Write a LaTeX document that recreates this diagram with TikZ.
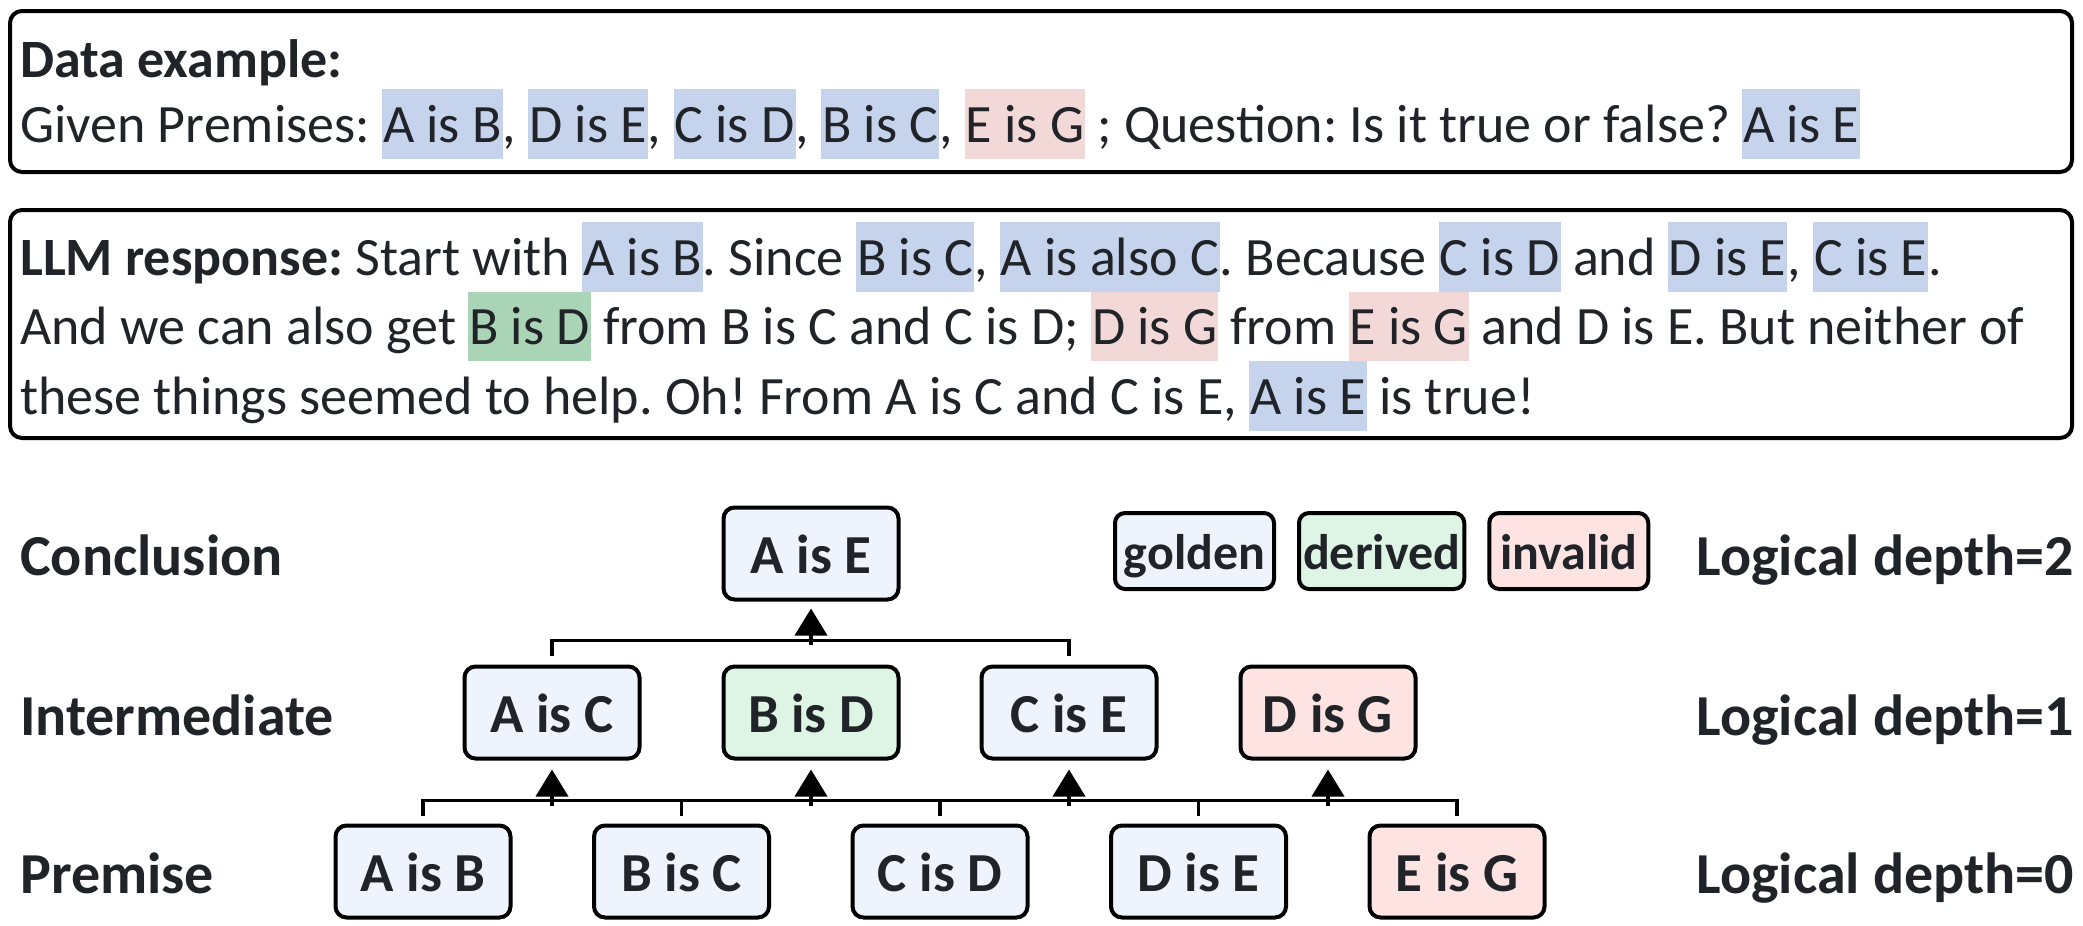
\documentclass[tikz,border=0pt]{standalone}
\usepackage{fontspec}
\setmainfont{Carlito}
\usetikzlibrary{arrows.meta,positioning}

\definecolor{ink}{HTML}{202328}
\definecolor{hlblue}{HTML}{C5D3EC}
\definecolor{hlred}{HTML}{F3D8D8}
\definecolor{hlgreen}{HTML}{AAD4B6}
\definecolor{goldfill}{HTML}{EFF3FC}
\definecolor{derivfill}{HTML}{DEF5E5}
\definecolor{invfill}{HTML}{FEE3E3}

% highlighted span, as tall as one text line
\newcommand{\hl}[2]{{\setlength{\fboxsep}{0pt}\colorbox{#1}{\rule[-16.5pt]{0pt}{69.5pt}\kern1pt#2\kern1pt}}}
\newcommand{\bodyfont}{\fontsize{54}{69.5}\selectfont}
\newcommand{\labfont}{\fontsize{58}{66}\selectfont\bfseries}

\tikzset{
  panel/.style={draw=black, line width=4pt, rounded corners=12pt},
  txt/.style={anchor=base west, inner sep=0pt, font=\bodyfont, text=ink},
  fact/.style={draw=black, line width=4pt, rounded corners=11pt, minimum width=175pt,
    minimum height=92pt, inner sep=0pt, text height=39pt, text depth=0pt,
    font=\fontsize{55}{60}\selectfont\bfseries, text=ink},
  golden/.style={fact, fill=goldfill},
  derived/.style={fact, fill=derivfill},
  invalid/.style={fact, fill=invfill},
  key/.style={draw=black, line width=4pt, rounded corners=10pt, minimum height=76pt,
    minimum width=159pt, inner xsep=4pt, inner ysep=0pt, text height=36pt, text depth=0pt,
    font=\fontsize{50}{56}\selectfont\bfseries, text=ink},
  level/.style={anchor=base west, inner sep=0pt, font=\labfont, text=ink},
  depth/.style={anchor=base east, inner sep=0pt, font=\labfont, text=ink},
  link/.style={line width=3.8pt},
  up/.style={link, -{Triangle[length=27pt,width=32pt]}},
}

\begin{document}
\frenchspacing
\begin{tikzpicture}[x=1pt,y=-1pt]
\useasboundingbox (0,0) rectangle (2083,926);

% the two text panels
\draw[panel] (10,11) rectangle (2072,172);
\draw[panel] (10,210) rectangle (2072,438);
\node[txt] (datahead) at (20,77) {\textbf{Data example:}};
\node[txt] (dataline) at (20,142) {Given Premises: \hl{hlblue}{A is B}, \hl{hlblue}{D is E}, \hl{hlblue}{C is D}, \hl{hlblue}{B is C}, \hl{hlred}{E is G} ; Question: Is it true or false? \hl{hlblue}{A is E}};
\node[txt] (resp1) at (20,275) {\textbf{LLM response:} Start with \hl{hlblue}{A is B}. Since \hl{hlblue}{B is C}, \hl{hlblue}{A is also C}. Because \hl{hlblue}{C is D} and \hl{hlblue}{D is E}, \hl{hlblue}{C is E}.};
\node[txt] (resp2) at (20,344.5) {And we can also get \hl{hlgreen}{B is D} from B is C and C is D; \hl{hlred}{D is G} from \hl{hlred}{E is G} and D is E. But neither of};
\node[txt] (resp3) at (20,414) {these things seemed to help. Oh! From A is C and C is E, \hl{hlblue}{A is E} is true!};

% row labels
\node[level] (lconc) at (20,575) {Conclusion};
\node[level] (linter) at (20,735) {Intermediate};
\node[level] (lprem) at (20,893) {Premise};
\node[depth] (dtwo) at (2074,575) {Logical depth=2};
\node[depth] (done) at (2074,735) {Logical depth=1};
\node[depth] (dzero) at (2074,893) {Logical depth=0};

% legend
\node[key, fill=goldfill, anchor=west] (kgold) at (1113,551) {golden};
\node[key, fill=derivfill, right=21pt of kgold] (kder) {derived};
\node[key, fill=invfill, right=21pt of kder] (kinv) {invalid};

% premises
\node[golden] (pAB) at (423,871.5) {A is B};
\node[golden] (pBC) at (681.5,871.5) {B is C};
\node[golden] (pCD) at (940,871.5) {C is D};
\node[golden] (pDE) at (1198.5,871.5) {D is E};
\node[invalid] (pEG) at (1457,871.5) {E is G};
% intermediate
\node[golden] (iAC) at (552,712.5) {A is C};
\node[derived] (iBD) at (811,712.5) {B is D};
\node[golden] (iCE) at (1069,712.5) {C is E};
\node[invalid] (iDG) at (1328,712.5) {D is G};
% conclusion
\node[golden] (cAE) at (811,553.5) {A is E};

% premise pairs -> intermediate
\draw[link] ([yshift=8pt]pAB.north) -- ++(0,15pt) -| ([yshift=8pt]pBC.north);
\draw[link] ([yshift=8pt]pBC.north) -- ++(0,15pt) -| ([yshift=8pt]pCD.north);
\draw[link] ([yshift=8pt]pCD.north) -- ++(0,15pt) -| ([yshift=8pt]pDE.north);
\draw[link] ([yshift=8pt]pDE.north) -- ++(0,15pt) -| ([yshift=8pt]pEG.north);
\foreach \n in {iAC,iBD,iCE,iDG}
  \draw[up] ([yshift=-45pt]\n.south) -- ([yshift=-9pt]\n.south);
% intermediate pair -> conclusion
\draw[link] ([yshift=9pt]iAC.north) -- ++(0,15pt) -| ([yshift=9pt]iCE.north);
\draw[up] ([yshift=-43pt]cAE.south) -- ([yshift=-7pt]cAE.south);
\end{tikzpicture}
\end{document}
